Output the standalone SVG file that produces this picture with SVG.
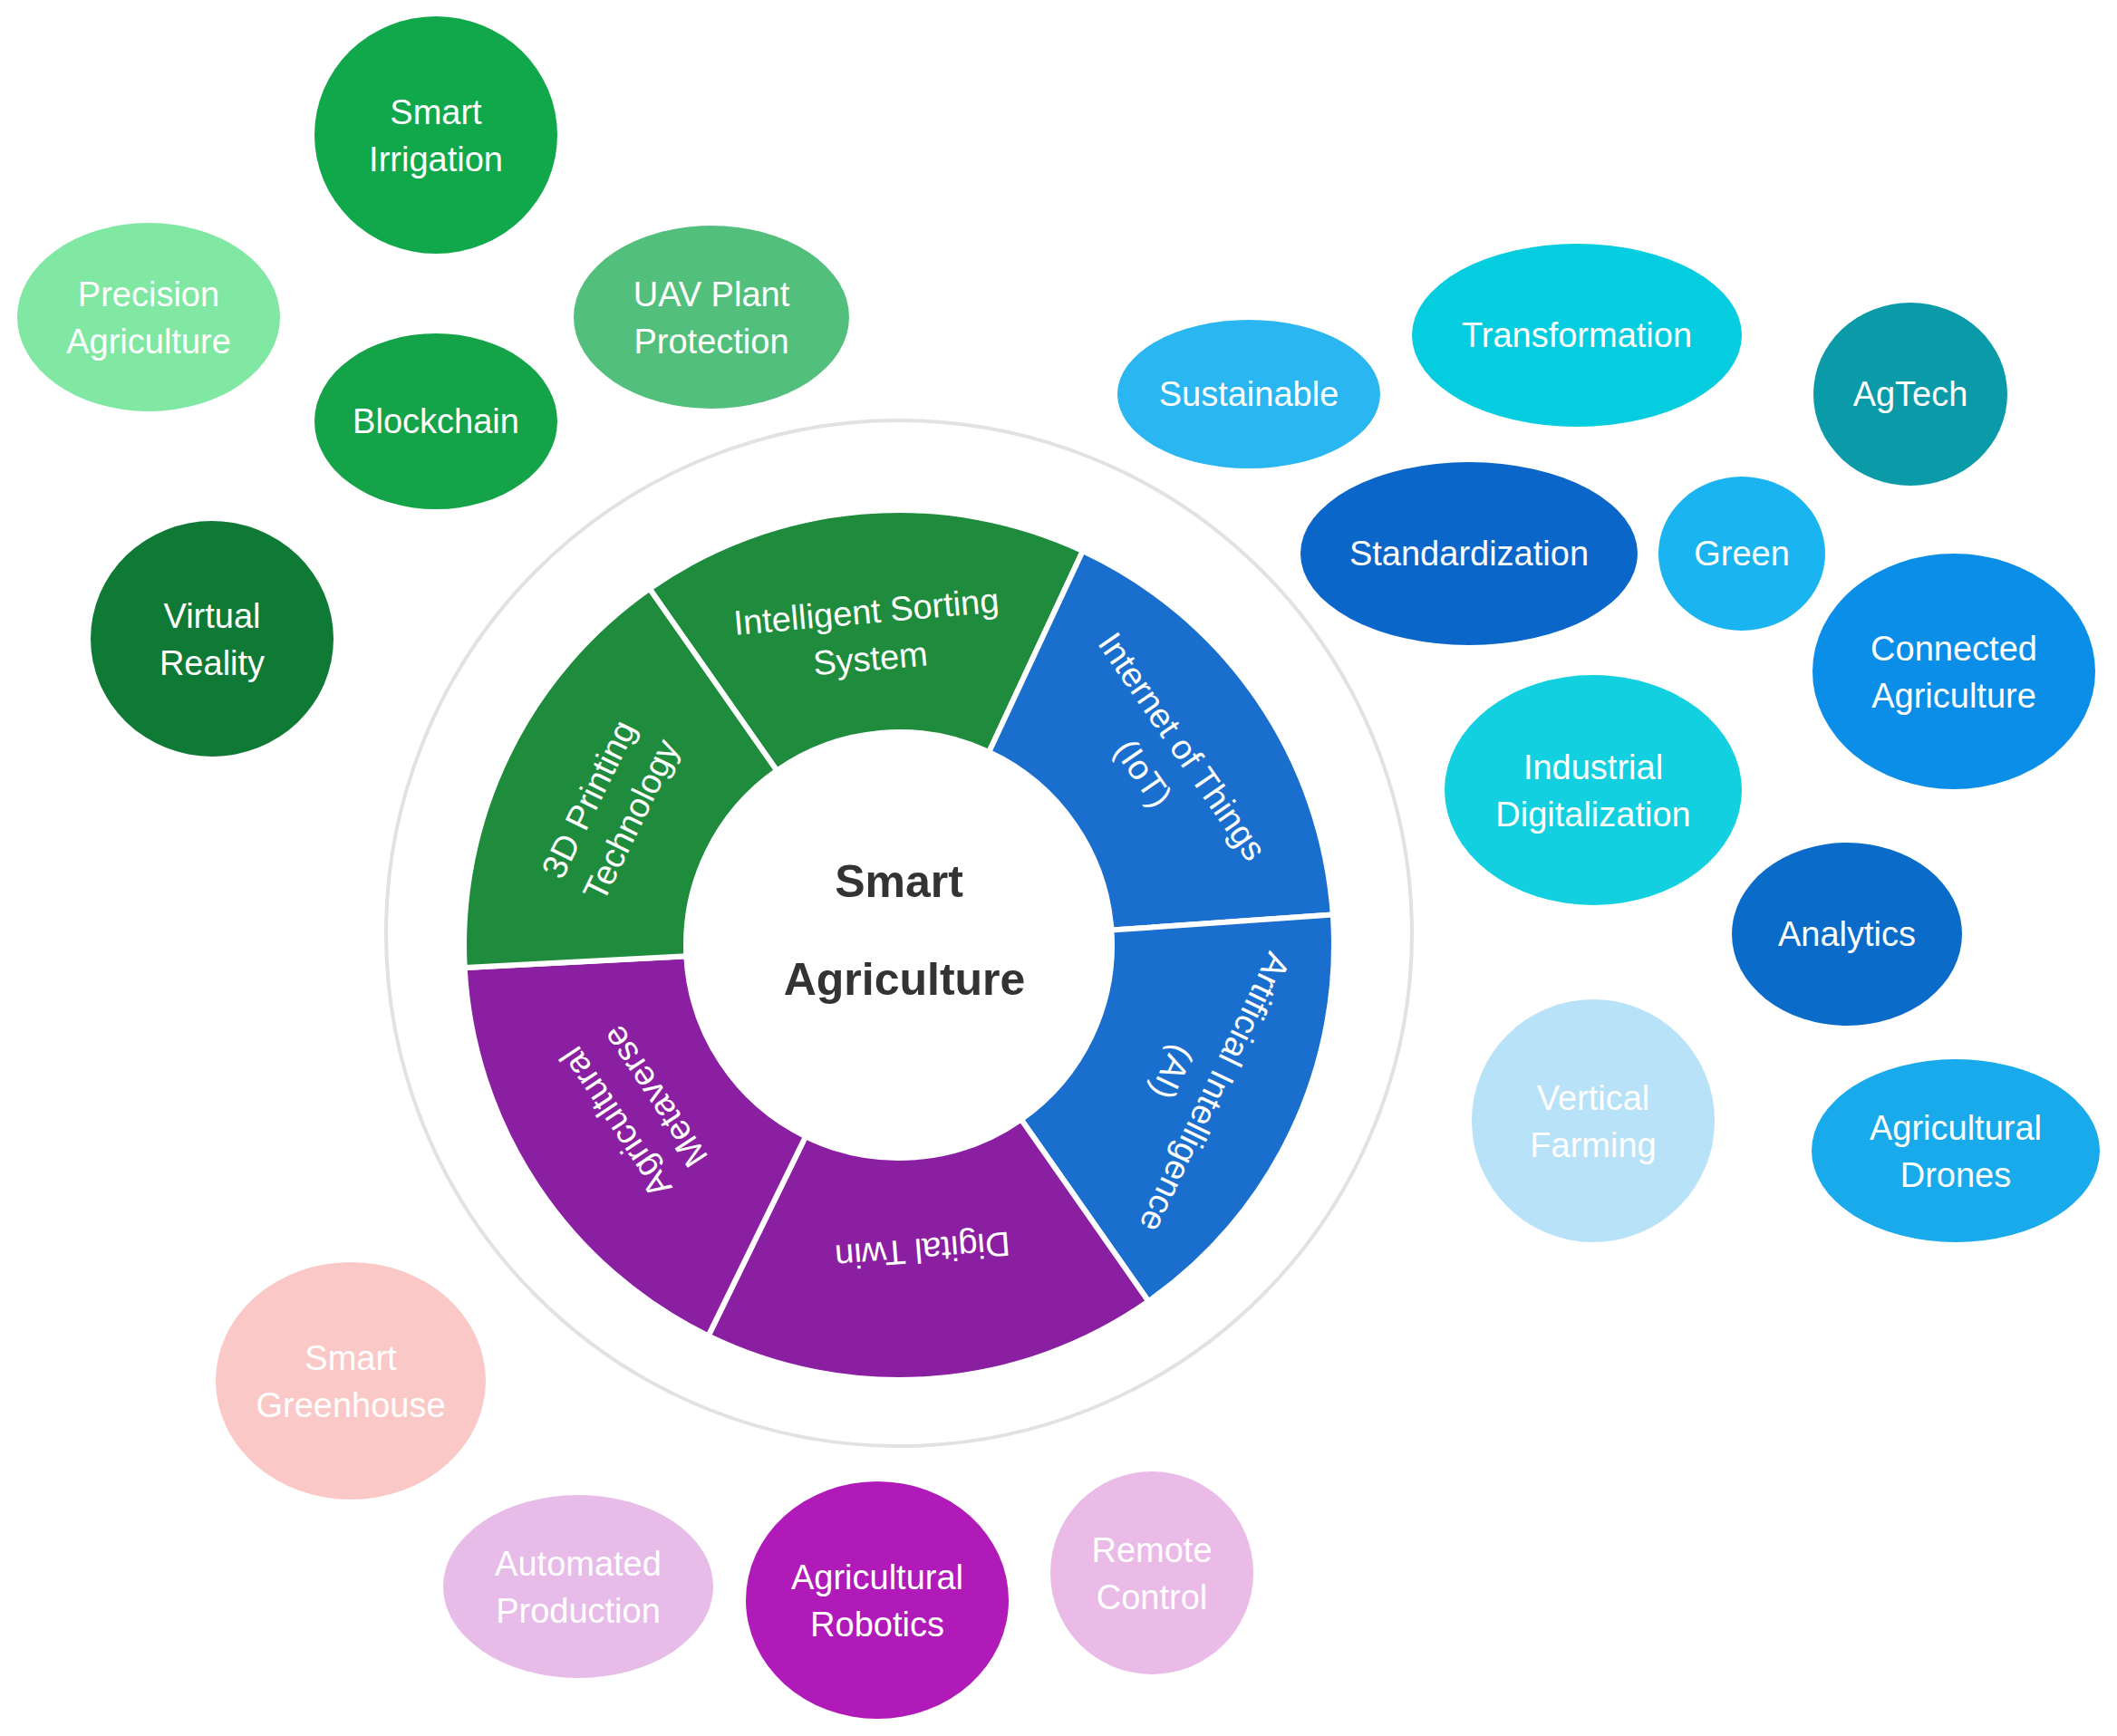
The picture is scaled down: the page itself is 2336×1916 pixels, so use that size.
<svg xmlns="http://www.w3.org/2000/svg" width="2336" height="1916" viewBox="0 0 2336 1916">
<style>
text{font-family:"Liberation Sans",Arial,sans-serif;fill:#fff;text-anchor:middle;font-size:38px}
.c{fill:#333;font-weight:bold;font-size:50px}
.seg{stroke:#fff;stroke-width:6}
</style>
<rect width="2336" height="1916" fill="#fff"/>
<g id="ring"><circle cx="992" cy="1030" r="566" fill="none" stroke="#e2e2e2" stroke-width="4"/></g>
<g id="seg-sorting"><path class="seg" fill="#1e8c3c" d="M716.7,649.8 A480,480 0 0 1 1194.8,608 L1091.3,830 A235,235 0 0 0 857.2,850.5 Z"/>
<g transform="translate(958,700) rotate(-5)"><text y="-12">Intelligent Sorting</text><text y="40">System</text></g></g>
<g id="seg-iot"><path class="seg" fill="#1a6fce" d="M1194.8,608 A480,480 0 0 1 1470.8,1009.5 L1226.4,1026.6 A235,235 0 0 0 1091.3,830 Z"/>
<g transform="translate(1284,838) rotate(55.5)"><text y="-12">Internet of Things</text><text y="40">(IoT)</text></g></g>
<g id="seg-ai"><path class="seg" fill="#1a6fce" d="M1470.8,1009.5 A480,480 0 0 1 1267.3,1436.2 L1126.8,1235.5 A235,235 0 0 0 1226.4,1026.6 Z"/>
<g transform="translate(1318,1195) rotate(115.5)"><text y="-12">Artificial Intelligence</text><text y="40">(AI)</text></g></g>
<g id="seg-twin"><path class="seg" fill="#8a1fa2" d="M1267.3,1436.2 A480,480 0 0 1 781.6,1474.4 L889,1254.2 A235,235 0 0 0 1126.8,1235.5 Z"/>
<g transform="translate(1018,1380) rotate(175.5)"><text y="13">Digital Twin</text></g></g>
<g id="seg-meta"><path class="seg" fill="#8a1fa2" d="M781.6,1474.4 A480,480 0 0 1 512.7,1068.1 L757.3,1055.3 A235,235 0 0 0 889,1254.2 Z"/>
<g transform="translate(700,1225) rotate(236.5)"><text y="-12">Agricultural</text><text y="40">Metaverse</text></g></g>
<g id="seg-3d"><path class="seg" fill="#1e8c3c" d="M512.7,1068.1 A480,480 0 0 1 716.7,649.8 L857.2,850.5 A235,235 0 0 0 757.3,1055.3 Z"/>
<g transform="translate(672,893) rotate(-64)"><text y="-12">3D Printing</text><text y="40">Technology</text></g></g>
<g id="center"><text class="c" x="992" y="990">Smart</text><text class="c" x="998" y="1098">Agriculture</text></g>
<g id="b1"><ellipse cx="481" cy="149" rx="134" ry="131" fill="#10a84a"/><text x="481" y="137">Smart</text><text x="481" y="189">Irrigation</text></g>
<g id="b2"><ellipse cx="164" cy="350" rx="145" ry="104" fill="#80e8a2"/><text x="164" y="338">Precision</text><text x="164" y="390">Agriculture</text></g>
<g id="b3"><ellipse cx="785" cy="350" rx="152" ry="101" fill="#52c07c"/><text x="785" y="338">UAV Plant</text><text x="785" y="390">Protection</text></g>
<g id="b4"><ellipse cx="481" cy="465" rx="134" ry="97" fill="#14a348"/><text x="481" y="478">Blockchain</text></g>
<g id="b5"><ellipse cx="234" cy="705" rx="134" ry="130" fill="#0f7a35"/><text x="234" y="693">Virtual</text><text x="234" y="745">Reality</text></g>
<g id="b6"><ellipse cx="1378" cy="435" rx="145" ry="82" fill="#2ab6f0"/><text x="1378" y="448">Sustainable</text></g>
<g id="b7"><ellipse cx="1740" cy="370" rx="182" ry="101" fill="#05cde0"/><text x="1740" y="383">Transformation</text></g>
<g id="b8"><ellipse cx="2108" cy="435" rx="107" ry="101" fill="#0a9aa8"/><text x="2108" y="448">AgTech</text></g>
<g id="b9"><ellipse cx="1621" cy="611" rx="186" ry="101" fill="#0a66c8"/><text x="1621" y="624">Standardization</text></g>
<g id="b10"><ellipse cx="1922" cy="611" rx="92" ry="85" fill="#1ab4f0"/><text x="1922" y="624">Green</text></g>
<g id="b11"><ellipse cx="2156" cy="741" rx="156" ry="130" fill="#0a8ee8"/><text x="2156" y="729">Connected</text><text x="2156" y="781">Agriculture</text></g>
<g id="b12"><ellipse cx="1758" cy="872" rx="164" ry="127" fill="#12d0e0"/><text x="1758" y="860">Industrial</text><text x="1758" y="912">Digitalization</text></g>
<g id="b13"><ellipse cx="2038" cy="1031" rx="127" ry="101" fill="#0a6cc8"/><text x="2038" y="1044">Analytics</text></g>
<g id="b14"><ellipse cx="1758" cy="1237" rx="134" ry="134" fill="#b8e2f8"/><text x="1758" y="1225">Vertical</text><text x="1758" y="1277">Farming</text></g>
<g id="b15"><ellipse cx="2158" cy="1270" rx="159" ry="101" fill="#19aaec"/><text x="2158" y="1258">Agricultural</text><text x="2158" y="1310">Drones</text></g>
<g id="b16"><ellipse cx="387" cy="1524" rx="149" ry="131" fill="#fbc8c8"/><text x="387" y="1512">Smart</text><text x="387" y="1564">Greenhouse</text></g>
<g id="b17"><ellipse cx="638" cy="1751" rx="149" ry="101" fill="#e8bce8"/><text x="638" y="1739">Automated</text><text x="638" y="1791">Production</text></g>
<g id="b18"><ellipse cx="968" cy="1766" rx="145" ry="131" fill="#b01ab8"/><text x="968" y="1754">Agricultural</text><text x="968" y="1806">Robotics</text></g>
<g id="b19"><ellipse cx="1271" cy="1736" rx="112" ry="112" fill="#ebbbe8"/><text x="1271" y="1724">Remote</text><text x="1271" y="1776">Control</text></g>
<g id="connectors"/>
</svg>
